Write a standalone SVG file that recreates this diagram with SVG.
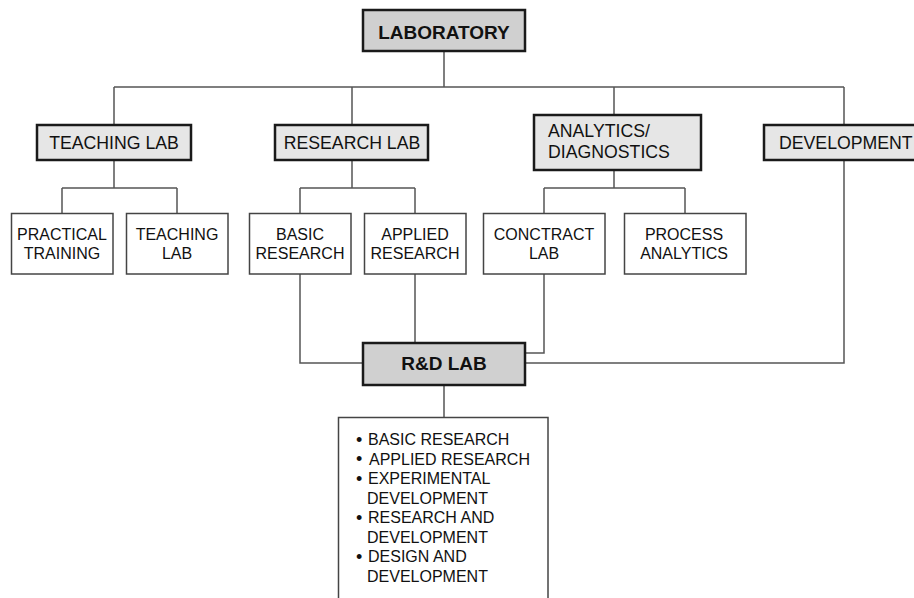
<svg xmlns="http://www.w3.org/2000/svg" width="914" height="598" viewBox="0 0 914 598">
<style>
.bg{fill:#ffffff}
.main{stroke:#1a1a1a;stroke-width:2.5}
.top{fill:#d0d0d0}
.mid{fill:#e6e6e6}
.leaf{fill:#ffffff;stroke:#444;stroke-width:1.5}
.conn{fill:none;stroke:#555;stroke-width:1.5}
text{font-family:"Liberation Sans",Arial,sans-serif;fill:#111}
.tb{font-size:19px;font-weight:bold;text-anchor:middle}
.tm{font-size:17.7px}
.tl{font-size:16px;text-anchor:middle}
.tx{font-size:16px}
.bu{font-size:18px}
</style>
<rect class="bg" x="0" y="0" width="914" height="598"/>
<g id="connectors">
<path class="conn" d="M444 52V87M114 87H844M114 87V124M352 87V124M614 87V114M844 87V124"/>
<path class="conn" d="M114 161V188M62 188H177M62 188V213M177 188V213"/>
<path class="conn" d="M352 161V188M300 188H415M300 188V213M415 188V213"/>
<path class="conn" d="M614 171V188M544 188H685M544 188V213M685 188V213"/>
<path class="conn" d="M300 274V363H362M415 274V342M544 274V353H526M844 161V363H526"/>
<path class="conn" d="M444 386V417"/>
</g>
<g id="laboratory">
<rect class="main top" x="363" y="10" width="162" height="41"/>
<text class="tb" x="444" y="38.5">LABORATORY</text>
</g>
<g id="teaching-lab">
<rect class="main mid" x="37" y="125" width="154" height="35"/>
<text class="tm" x="114" y="148.5" text-anchor="middle">TEACHING LAB</text>
</g>
<g id="research-lab">
<rect class="main mid" x="275" y="125" width="153" height="35"/>
<text class="tm" x="352" y="148.5" text-anchor="middle">RESEARCH LAB</text>
</g>
<g id="analytics">
<rect class="main mid" x="534" y="115" width="167" height="55"/>
<text class="tm" x="548" y="137">ANALYTICS/</text>
<text class="tm" x="548" y="158">DIAGNOSTICS</text>
</g>
<g id="development">
<rect class="main mid" x="764" y="125" width="170" height="35"/>
<text class="tm" x="779" y="148.5">DEVELOPMENT</text>
</g>
<g id="practical-training">
<rect class="leaf" x="11.5" y="213.5" width="101.5" height="60.5"/>
<text class="tl" x="62" y="239.5">PRACTICAL</text>
<text class="tl" x="62" y="259">TRAINING</text>
</g>
<g id="teaching-lab-2">
<rect class="leaf" x="126.5" y="213.5" width="101.5" height="60.5"/>
<text class="tl" x="177" y="239.5">TEACHING</text>
<text class="tl" x="177" y="259">LAB</text>
</g>
<g id="basic-research">
<rect class="leaf" x="249.5" y="213.5" width="101.5" height="60.5"/>
<text class="tl" x="300" y="239.5">BASIC</text>
<text class="tl" x="300" y="259">RESEARCH</text>
</g>
<g id="applied-research">
<rect class="leaf" x="364.5" y="213.5" width="101.5" height="60.5"/>
<text class="tl" x="415" y="239.5">APPLIED</text>
<text class="tl" x="415" y="259">RESEARCH</text>
</g>
<g id="contract-lab">
<rect class="leaf" x="483.5" y="213.5" width="121.5" height="60.5"/>
<text class="tl" x="544" y="239.5">CONCTRACT</text>
<text class="tl" x="544" y="259">LAB</text>
</g>
<g id="process-analytics">
<rect class="leaf" x="624.5" y="213.5" width="121.5" height="60.5"/>
<text class="tl" x="684" y="239.5">PROCESS</text>
<text class="tl" x="684" y="259">ANALYTICS</text>
</g>
<g id="rd-lab">
<rect class="main top" x="363" y="343" width="162" height="42"/>
<text class="tb" x="444" y="370">R&amp;D LAB</text>
</g>
<g id="rd-list">
<rect class="leaf" x="338.5" y="417.5" width="209.5" height="200"/>
<text class="tx" x="356" y="445"><tspan class="bu" dy="0.5">•</tspan><tspan x="368" dy="-0.5">BASIC RESEARCH</tspan></text>
<text class="tx" x="356" y="464.5"><tspan class="bu" dy="0.5">•</tspan><tspan x="369" dy="-0.5">APPLIED RESEARCH</tspan></text>
<text class="tx" x="356" y="484"><tspan class="bu" dy="0.5">•</tspan><tspan x="368" dy="-0.5">EXPERIMENTAL</tspan></text>
<text class="tx" x="367" y="503.5">DEVELOPMENT</text>
<text class="tx" x="356" y="523"><tspan class="bu" dy="0.5">•</tspan><tspan x="368" dy="-0.5">RESEARCH AND</tspan></text>
<text class="tx" x="367" y="542.5">DEVELOPMENT</text>
<text class="tx" x="356" y="562"><tspan class="bu" dy="0.5">•</tspan><tspan x="368" dy="-0.5">DESIGN AND</tspan></text>
<text class="tx" x="367" y="582">DEVELOPMENT</text>
</g>
</svg>
